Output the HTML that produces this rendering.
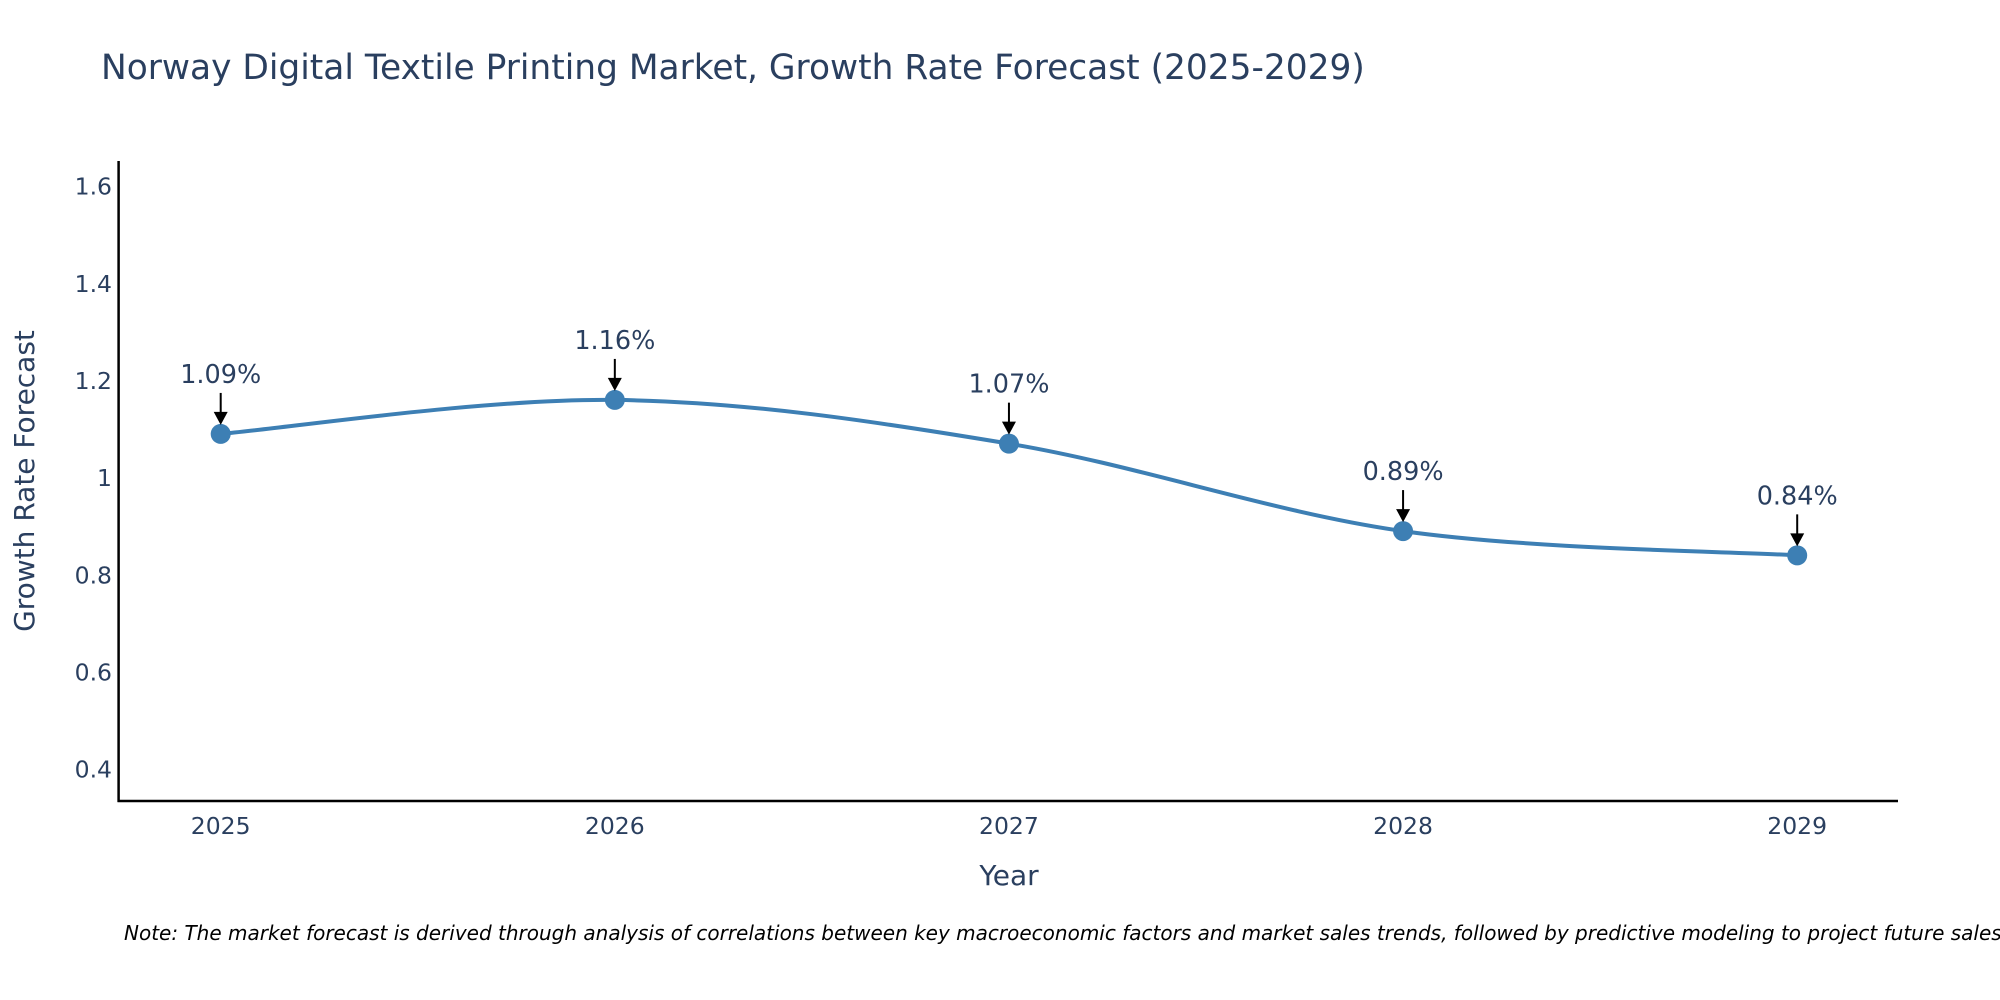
<!DOCTYPE html>
<html><head><meta charset="utf-8"><style>
html,body{margin:0;padding:0;background:#fff;}
svg{display:block;font-family:"DejaVu Sans","Liberation Sans",sans-serif;}
</style></head><body>
<svg id="chart" width="2000" height="1000" viewBox="0 0 2000 1000">
<text x="101" y="79" font-size="34.4" fill="#2a3f5f">Norway Digital Textile Printing Market, Growth Rate Forecast (2025-2029)</text>
<g id="yticks"></g>
<g id="xticks"></g>
<line x1="118.6" y1="161" x2="118.6" y2="802" stroke="#000" stroke-width="2.5"/>
<line x1="117.5" y1="801" x2="1898" y2="801" stroke="#000" stroke-width="2.5"/>
<text transform="translate(34,481) rotate(-90)" text-anchor="middle" font-size="28" fill="#2a3f5f">Growth Rate Forecast</text>
<text x="1009" y="885" text-anchor="middle" font-size="28" fill="#2a3f5f">Year</text>
<path id="line" fill="none" stroke="#3d7fb4" stroke-width="4"/>
<g id="points"></g>
<g id="annots"></g>
<text x="124" y="940" font-size="20" font-style="italic" fill="#000">Note: The market forecast is derived through analysis of correlations between key macroeconomic factors and market sales trends, followed by predictive modeling to project future sales.</text>
</svg>
<script>
const years = [2025, 2026, 2027, 2028, 2029];
const growth = [1.09, 1.16, 1.07, 0.89, 0.84];
const labels = ["1.09%", "1.16%", "1.07%", "0.89%", "0.84%"];
const yTickValues = [0.4, 0.6, 0.8, 1, 1.2, 1.4, 1.6];
const yTickLabels = ["0.4", "0.6", "0.8", "1", "1.2", "1.4", "1.6"];

const NS = "http://www.w3.org/2000/svg";
function xs(v){ return 220.7 + (v - 2025) * (1797.2 - 220.7) / 4; }
function ys(v){ return 769.1 - (v - 0.4) * (769.1 - 186.2) / 1.2; }
function mk(tag, attrs, parent){ const e = document.createElementNS(NS, tag); for (const k in attrs) e.setAttribute(k, attrs[k]); parent.appendChild(e); return e; }

const yg = document.getElementById('yticks');
yTickValues.forEach((v, i) => {
  const t = mk('text', {x: 112, y: ys(v) + 8.5, 'text-anchor': 'end', 'font-size': 23.5, fill: '#2a3f5f'}, yg);
  
  
  t.textContent = yTickLabels[i];
});
const xg = document.getElementById('xticks');
years.forEach(y => {
  const t = mk('text', {x: xs(y), y: 834, 'text-anchor': 'middle', 'font-size': 23.5, fill: '#2a3f5f'}, xg);
  
  
  t.textContent = y;
});

const pts = years.map((y, i) => [xs(y), ys(growth[i])]);
let d = 'M' + pts[0][0] + ',' + pts[0][1];
const s = 1 / 6;
for (let i = 0; i < pts.length - 1; i++) {
  const p0 = pts[Math.max(i - 1, 0)], p1 = pts[i], p2 = pts[i + 1], p3 = pts[Math.min(i + 2, pts.length - 1)];
  const c1 = [p1[0] + (p2[0] - p0[0]) * s, p1[1] + (p2[1] - p0[1]) * s];
  const c2 = [p2[0] - (p3[0] - p1[0]) * s, p2[1] - (p3[1] - p1[1]) * s];
  d += ' C' + c1 + ' ' + c2 + ' ' + p2;
}
document.getElementById('line').setAttribute('d', d);

const pg = document.getElementById('points');
const ag = document.getElementById('annots');
pts.forEach((p, i) => {
  const c = mk('circle', {cx: p[0], cy: p[1], r: 10, fill: '#3d7fb4'}, pg);
  
  
  const l = mk('line', {x1: p[0], y1: p[1] - 41, x2: p[0], y2: p[1] - 20, stroke: '#000', 'stroke-width': 2}, ag);
  
  
  const a = mk('path', {d: `M${p[0]-7},${p[1]-22} L${p[0]+7},${p[1]-22} L${p[0]},${p[1]-9} Z`, fill: '#000'}, ag);
  
  
  const t = mk('text', {x: p[0], y: p[1] - 51, 'text-anchor': 'middle', 'font-size': 25.5, fill: '#2a3f5f'}, ag);
  
  
  t.textContent = labels[i];
});
</script>
</body></html>
